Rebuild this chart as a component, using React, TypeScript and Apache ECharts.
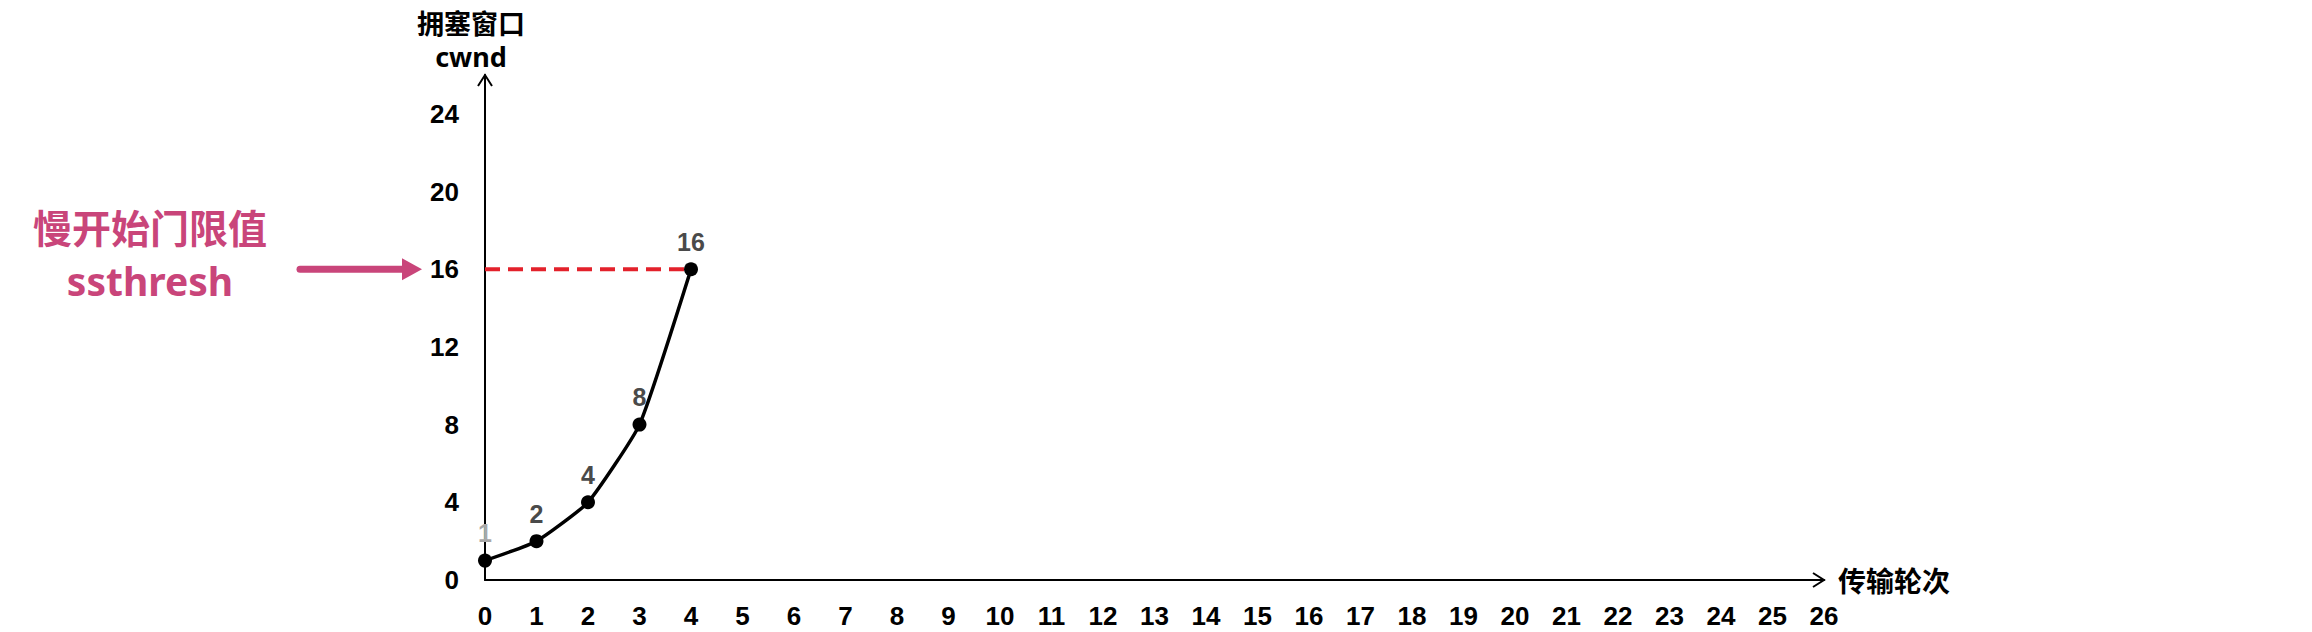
import React, { useEffect, useRef } from 'react';
import * as echarts from 'echarts';

const rounds = [0, 1, 2, 3, 4];
const cwnd = [1, 2, 4, 8, 16];
const ssthresh = 16;
const xAxisMax = 26;
const yAxisMax = 26;
const yInterval = 4;
const xAxisName = '传输轮次';
const yAxisNameLines = ['拥塞窗口', 'cwnd'];
const annotationLines = ['慢开始门限值', 'ssthresh'];

export default function App() {
  const ref = useRef<HTMLDivElement>(null);
  useEffect(() => {
    const chart = echarts.init(ref.current!, null, { renderer: 'svg' });
    const numFont = "'Liberation Sans', Arial, sans-serif";
    const cjkFont = "'Noto Sans CJK SC', sans-serif";
    const pink = '#c9457a';
    chart.setOption({
      animation: false,
      backgroundColor: '#ffffff',
      grid: { left: 485, right: 488, top: 75, bottom: 52, containLabel: false },
      xAxis: {
        type: 'value',
        min: 0,
        max: xAxisMax,
        interval: 1,
        name: xAxisName,
        nameLocation: 'end',
        nameGap: 14,
        nameTextStyle: { fontFamily: cjkFont, fontWeight: 'bold', fontSize: 28, color: '#000', verticalAlign: 'middle' },
        axisLine: { lineStyle: { color: '#000', width: 2 } },
        axisTick: { show: false },
        splitLine: { show: false },
        axisLabel: { margin: 23, color: '#000', fontFamily: numFont, fontWeight: 'bold', fontSize: 26 },
      },
      yAxis: {
        type: 'value',
        min: 0,
        max: yAxisMax,
        interval: yInterval,
        axisLine: { show: true, lineStyle: { color: '#000', width: 2 } },
        axisTick: { show: false },
        splitLine: { show: false },
        axisLabel: { margin: 26, color: '#000', fontFamily: numFont, fontWeight: 'bold', fontSize: 26, showMaxLabel: false },
      },
      series: [
        {
          type: 'line',
          name: 'ssthresh',
          data: [[rounds[0], ssthresh], [rounds[rounds.length - 1], ssthresh]],
          symbol: 'none',
          lineStyle: { color: '#e3212b', width: 4, type: [15, 8] },
          z: 1,
          silent: true,
        },
        {
          type: 'line',
          name: 'cwnd',
          data: rounds.map((r, i) => ({
            value: [r, cwnd[i]],
            label: i === 0 ? { color: '#a8a8a8' } : undefined,
          })),
          smooth: 0.15,
          symbol: 'circle',
          symbolSize: 14,
          itemStyle: { color: '#000' },
          lineStyle: { color: '#000', width: 3.5 },
          label: {
            show: true,
            position: 'top',
            distance: 8,
            color: '#4a4a4a',
            fontFamily: numFont,
            fontWeight: 'bold',
            fontSize: 25,
          },
          z: 3,
        },
      ],
    });

    const yTip = chart.convertToPixel({ gridIndex: 0 }, [0, yAxisMax]) as number[];
    const xTip = chart.convertToPixel({ gridIndex: 0 }, [xAxisMax, 0]) as number[];
    const th = chart.convertToPixel({ gridIndex: 0 }, [0, ssthresh]) as number[];
    const ty = th[1];

    const annoStyle = {
      fontWeight: 'bold',
      fontSize: 39,
      fill: pink,
      stroke: '#ffffff',
      lineWidth: 3,
      align: 'center',
      verticalAlign: 'middle',
      shadowBlur: 4,
      shadowColor: 'rgba(0,0,0,0.35)',
      shadowOffsetX: 1,
      shadowOffsetY: 2,
    };

    chart.setOption({
      graphic: [
        {
          type: 'polyline',
          shape: { points: [[yTip[0] - 7, yTip[1] + 11], [yTip[0], yTip[1]], [yTip[0] + 7, yTip[1] + 11]] },
          style: { stroke: '#000', lineWidth: 2, fill: 'none' },
        },
        {
          type: 'polyline',
          shape: { points: [[xTip[0] - 11, xTip[1] - 7], [xTip[0], xTip[1]], [xTip[0] - 11, xTip[1] + 7]] },
          style: { stroke: '#000', lineWidth: 2, fill: 'none' },
        },
        {
          type: 'text',
          x: yTip[0] - 14,
          y: 22,
          style: { text: yAxisNameLines[0], fontFamily: cjkFont, fontWeight: 'bold', fontSize: 27, fill: '#000', align: 'center', verticalAlign: 'middle' },
        },
        {
          type: 'text',
          x: yTip[0] - 14,
          y: 56,
          style: { text: yAxisNameLines[1], fontFamily: "'Noto Sans', sans-serif", fontWeight: 'bold', fontSize: 27, fill: '#000', align: 'center', verticalAlign: 'middle' },
        },
        {
          type: 'line',
          shape: { x1: 300, y1: ty, x2: 406, y2: ty },
          style: { stroke: pink, lineWidth: 7, lineCap: 'round' },
        },
        {
          type: 'polygon',
          shape: { points: [[402, ty - 11], [422, ty], [402, ty + 11]] },
          style: { fill: pink },
        },
        {
          type: 'text',
          x: 150,
          y: 226,
          style: { ...annoStyle, text: annotationLines[0], fontFamily: cjkFont },
        },
        {
          type: 'text',
          x: 150,
          y: 280,
          style: { ...annoStyle, text: annotationLines[1], fontFamily: "'Noto Sans', 'Open Sans', sans-serif" },
        },
      ],
    });

    return () => chart.dispose();
  }, []);
  return <div ref={ref} style={{ position: 'fixed', left: 0, top: 0, width: 2312, height: 632 }} />;
}
